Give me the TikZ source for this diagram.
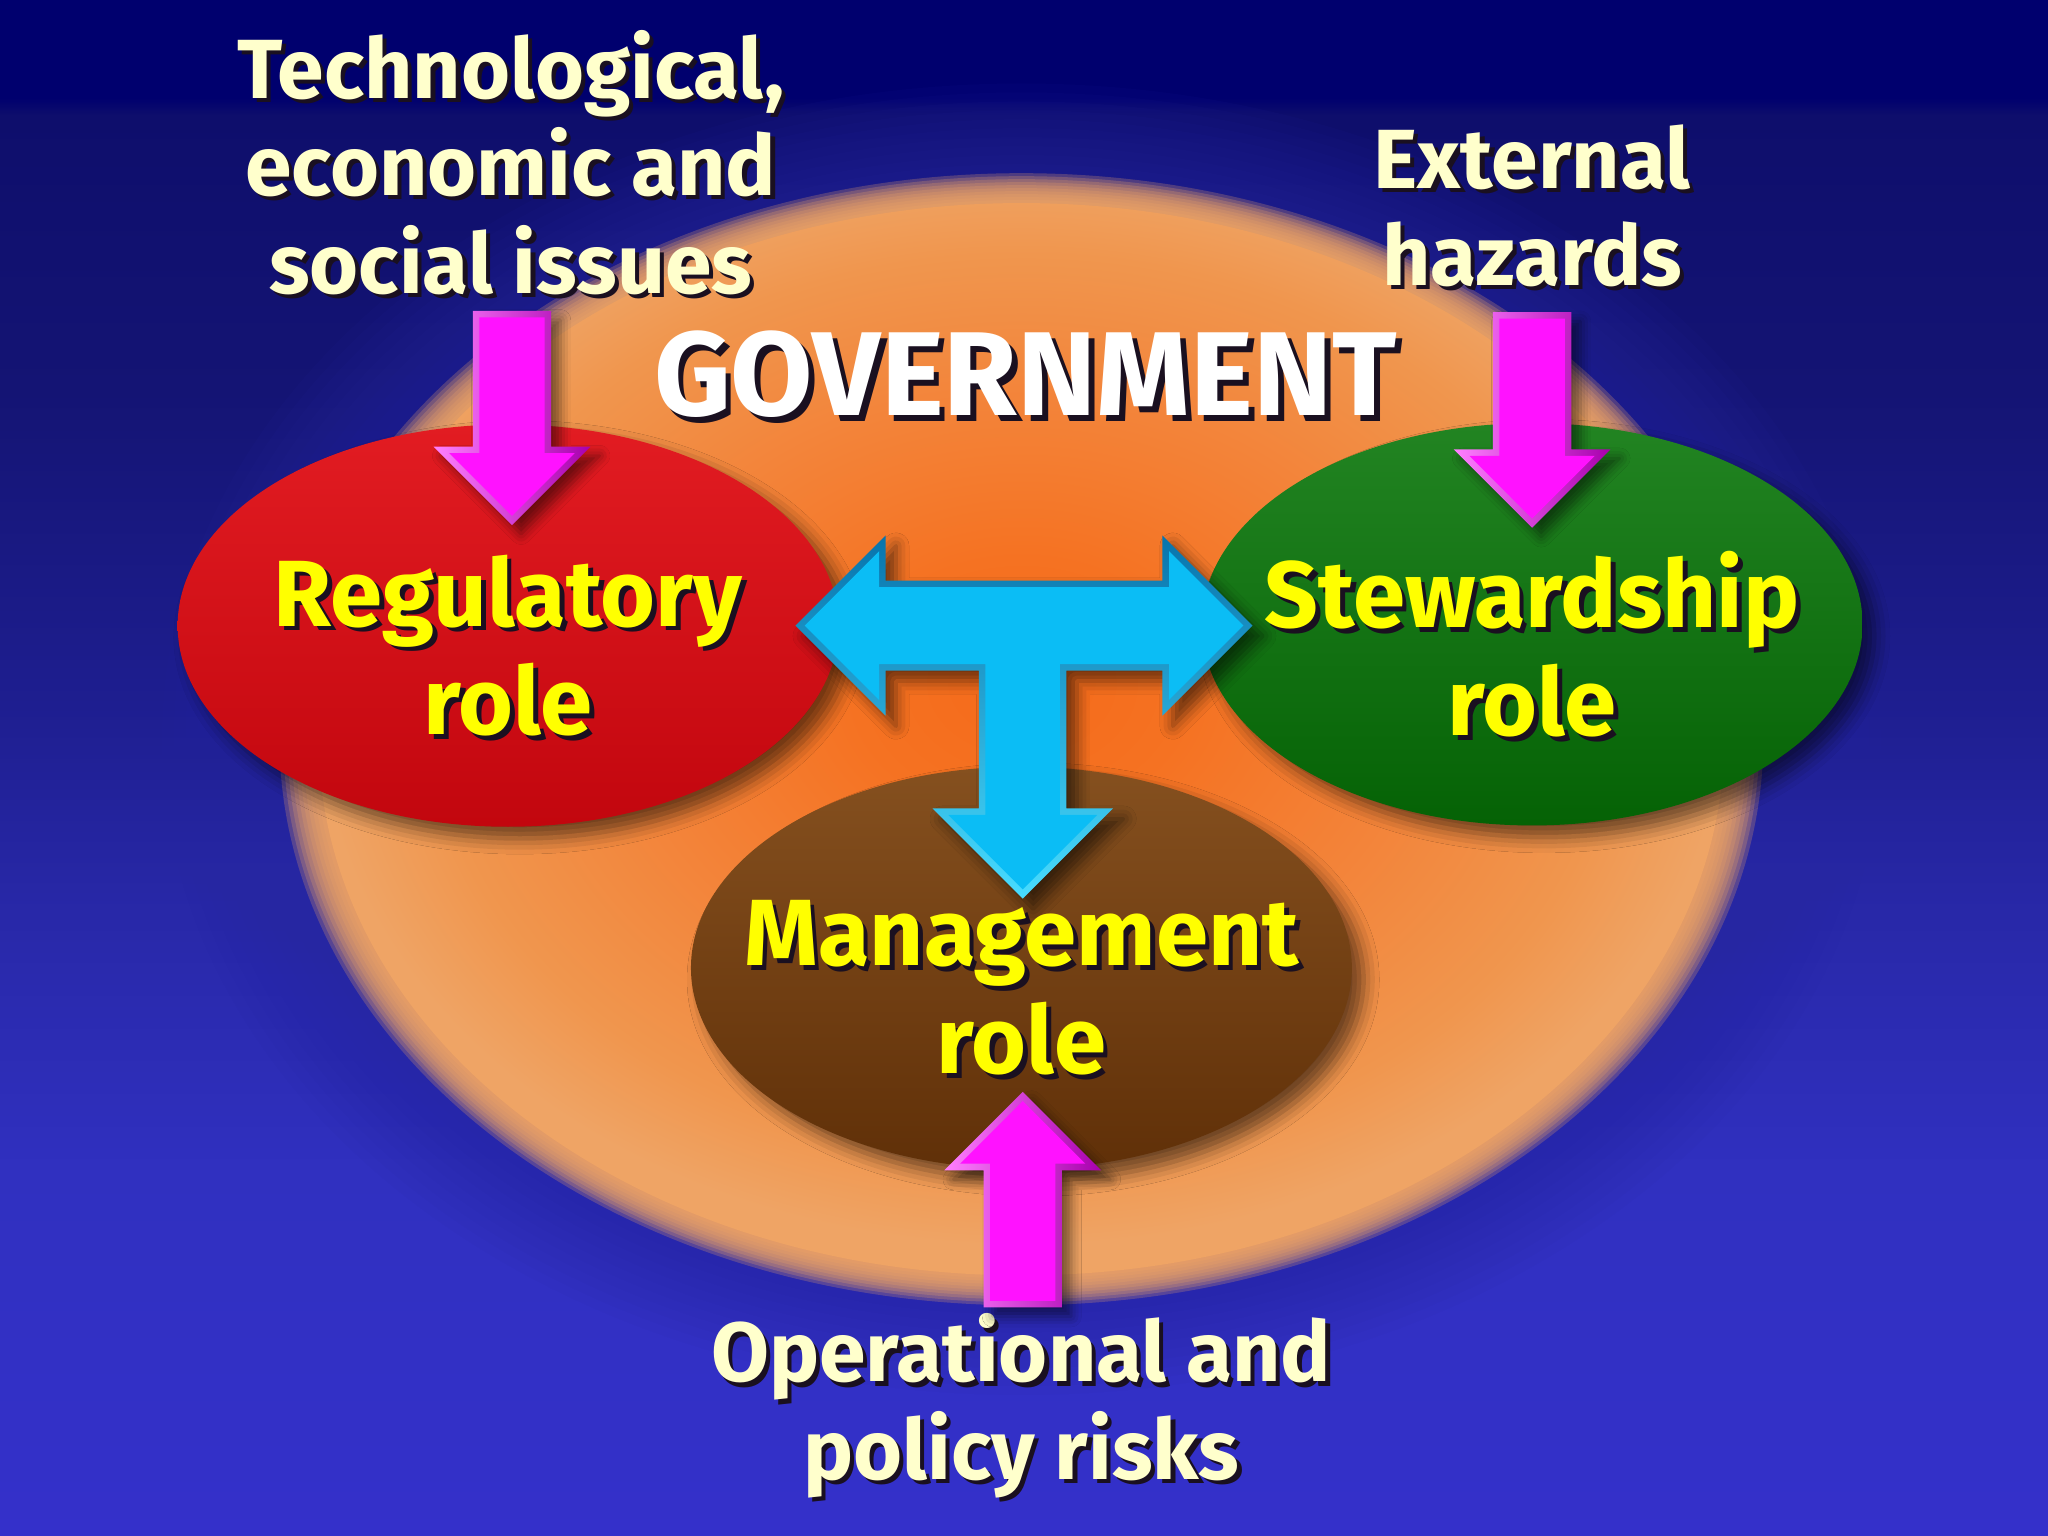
\documentclass[tikz,border=0pt]{standalone}
\usepackage{fontspec}
\setmainfont{Fira Sans}
\usetikzlibrary{shapes.geometric,shadows.blur,calc}

\definecolor{bgtop}{HTML}{00006E}
\definecolor{bgband}{HTML}{0E0E6C}
\definecolor{bgupper}{HTML}{141474}
\definecolor{bgmid}{HTML}{1E1E90}
\definecolor{bglow}{HTML}{2828A8}
\definecolor{bglower}{HTML}{3030C0}
\definecolor{bgbot}{HTML}{3430CA}
\definecolor{halo}{HTML}{2626A2}
\definecolor{orcore}{HTML}{F56A1A}
\definecolor{orhot}{HTML}{F57222}
\definecolor{ormid}{HTML}{F3843A}
\definecolor{orwarm}{HTML}{F0964E}
\definecolor{orrim}{HTML}{EFA465}
\definecolor{redtop}{HTML}{E21C22}
\definecolor{redmid}{HTML}{D20A12}
\definecolor{redbot}{HTML}{C2060E}
\definecolor{greentop}{HTML}{228422}
\definecolor{greenmid}{HTML}{0B700F}
\definecolor{greenbot}{HTML}{056205}
\definecolor{browntop}{HTML}{85501F}
\definecolor{brownmid}{HTML}{713C0E}
\definecolor{brownbot}{HTML}{603008}
\definecolor{cyanmain}{HTML}{0BBDF5}
\definecolor{cyandark}{HTML}{0874AC}
\definecolor{cyanlight}{HTML}{48DCFF}
\definecolor{magmain}{HTML}{FF12FF}
\definecolor{magdark}{HTML}{A800AE}
\definecolor{maglight}{HTML}{FF80FF}
\definecolor{roleyellow}{HTML}{FFFF00}
\definecolor{creamtext}{HTML}{FFFFCC}
\definecolor{shadowcol}{HTML}{1A1020}

\pgfdeclareverticalshading{bgshade}{100bp}{color(0bp)=(bgbot); color(25bp)=(bgbot); color(36.75bp)=(bglower); color(45.25bp)=(bglow); color(52bp)=(bgmid); color(62.25bp)=(bgupper); color(71.25bp)=(bgband); color(71.8bp)=(bgtop); color(100bp)=(bgtop)}
\pgfdeclareradialshading{orangeglow}{\pgfpoint{0bp}{2.8bp}}{color(0bp)=(orcore); color(6bp)=(orhot); color(14bp)=(ormid); color(21bp)=(orwarm); color(25bp)=(orrim); color(50bp)=(orrim)}

\newcommand\sh[1]{\leavevmode\rlap{\kern0.05em\raisebox{-0.05em}{\color{shadowcol}#1}}#1}

\newcommand\arrsw{0.3cm}
\newcommand\arrhw{0.6cm}
\newcommand\arrhl{0.6cm}
\newcommand\arrowpath[4]{%
  \path[#1] let \p1=(#2), \p2=(#3), \n1={(\y2-\y1)/abs(\y2-\y1)} in
    ({\x1-\arrsw+#4},{\y1+(\n1)*#4}) -- ({\x1+\arrsw-#4},{\y1+(\n1)*#4})
    -- ({\x1+\arrsw-#4},{\y2-(\n1)*(\arrhl-#4)}) -- ({\x1+\arrhw-#4-1.414*#4},{\y2-(\n1)*(\arrhl-#4)})
    -- (\x2,{\y2-(\n1)*1.414*#4})
    -- ({\x1-\arrhw+#4+1.414*#4},{\y2-(\n1)*(\arrhl-#4)}) -- ({\x1-\arrsw+#4},{\y2-(\n1)*(\arrhl-#4)}) -- cycle;}
\newcommand\fatarrow[2]{\arrowpath{magedge}{#1}{#2}{0cm}\arrowpath{magface}{#1}{#2}{0.05cm}}

\newcommand\Tl{1.74}
\newcommand\Tr{1.76}
\newcommand\Td{2.09}
\newcommand\Tsh{0.345}
\newcommand\Tst{0.335}
\newcommand\Thw{0.69}
\newcommand\tarrow[2]{%
  \path[#1] ({-\Tl+1.414*#2},0) -- ({-\Tl+\Thw-#2},{\Thw-2.414*#2}) -- ({-\Tl+\Thw-#2},{\Tsh-#2})
    -- ({\Tr-\Thw+#2},{\Tsh-#2}) -- ({\Tr-\Thw+#2},{\Thw-2.414*#2}) -- ({\Tr-1.414*#2},0)
    -- ({\Tr-\Thw+#2},{-\Thw+2.414*#2}) -- ({\Tr-\Thw+#2},{-\Tsh+#2}) -- ({\Tst-#2},{-\Tsh+#2})
    -- ({\Tst-#2},{-\Td+\Thw-#2}) -- ({\Thw-2.414*#2},{-\Td+\Thw-#2}) -- (0,{-\Td+1.414*#2})
    -- ({-\Thw+2.414*#2},{-\Td+\Thw-#2}) -- ({-\Tst+#2},{-\Td+\Thw-#2}) -- ({-\Tst+#2},{-\Tsh+#2})
    -- ({-\Tl+\Thw-#2},{-\Tsh+#2}) -- ({-\Tl+\Thw-#2},{-\Thw+2.414*#2}) -- cycle;}

\tikzset{
  role/.style={ellipse, minimum width=5.06cm, minimum height=3.08cm, inner sep=0pt,
    blur shadow={shadow xshift=0.9mm, shadow yshift=-0.9mm, shadow blur radius=1.2mm, shadow opacity=55}},
  roletext/.style={text=roleyellow, align=center, font=\bfseries\fontsize{20.5}{23.6}\selectfont},
  cream/.style={text=creamtext, align=center, font=\bfseries\fontsize{18.3}{21.2}\selectfont},
  govtext/.style={text=white, font=\bfseries\fontsize{26}{30}\selectfont},
  magedge/.style={left color=maglight, right color=magdark,
    blur shadow={shadow xshift=0.7mm, shadow yshift=-0.7mm, shadow blur radius=0.8mm, shadow opacity=50}},
  magface/.style={fill=magmain},
  tedge/.style={top color=cyandark, bottom color=cyanlight,
    blur shadow={shadow xshift=0.8mm, shadow yshift=-0.8mm, shadow blur radius=1mm, shadow opacity=55}},
  tface/.style={fill=cyanmain},
}

\begin{document}
\begin{tikzpicture}
  \useasboundingbox (0,0) rectangle (15.68,11.76);
  \shade[shading=bgshade] (0,0) rectangle (15.68,11.76);

  % the orange glow with its soft rim
  \coordinate (glowc) at (7.82,6.10);
  \foreach \k in {1,...,12}
    \fill[halo, opacity=0.08] (glowc) ellipse [x radius={5.5+0.09*\k}, y radius={(5.5+0.09*\k)*0.763}];
  \foreach \k in {1,...,10}
    \fill[orrim, opacity=0.25] (glowc) ellipse [x radius={5.38+0.03*\k}, y radius={(5.38+0.03*\k)*0.763}];
  \shade[shading=orangeglow] (glowc) ellipse [x radius=5.38, y radius=4.105];

  \node[role, top color=redtop, middle color=redmid, bottom color=redbot] (reg) at (3.89,6.97) {};
  \node[role, top color=greentop, middle color=greenmid, bottom color=greenbot] (stew) at (11.73,6.98) {};
  \node[role, top color=browntop, middle color=brownmid, bottom color=brownbot] (mgmt) at (7.82,4.35) {};

  \coordinate (hub) at (7.83,6.97);
  \begin{scope}[shift={(hub)}]
    \tarrow{tedge}{0}
    \tarrow{tface}{0.05}
  \end{scope}

  \node[roletext] (regtxt) at ([yshift=-1.7mm]reg.center) {\sh{Regulatory}\\\sh{role}};
  \node[roletext] (stewtxt) at ([yshift=-1.7mm]stew.center) {\sh{Stewardship}\\\sh{role}};
  \node[roletext] (mgmttxt) at ([yshift=-1.7mm]mgmt.center) {\sh{Management}\\\sh{role}};

  \node[govtext, anchor=base] (gov) at (7.85,8.58) {\sh{GOVERNMENT}};

  \node[cream] (tech) at (3.91,10.50) {\sh{Technological,}\\\sh{economic and}\\\sh{social issues}};
  \node[cream] (haz) at (11.73,10.17) {\sh{External}\\\sh{hazards}};
  \node[cream] (oper) at (7.82,0.98) {\sh{Operational and}\\\sh{policy risks}};

  \coordinate (techfoot) at (3.92,9.38);
  \coordinate (regtip) at (3.92,7.74);
  \coordinate (hazfoot) at (11.73,9.37);
  \coordinate (stewtip) at (11.73,7.72);
  \coordinate (operfoot) at (7.83,1.75);
  \coordinate (mgmttip) at (7.83,3.40);
  \fatarrow{techfoot}{regtip}
  \fatarrow{hazfoot}{stewtip}
  \fatarrow{operfoot}{mgmttip}
\end{tikzpicture}
\end{document}
